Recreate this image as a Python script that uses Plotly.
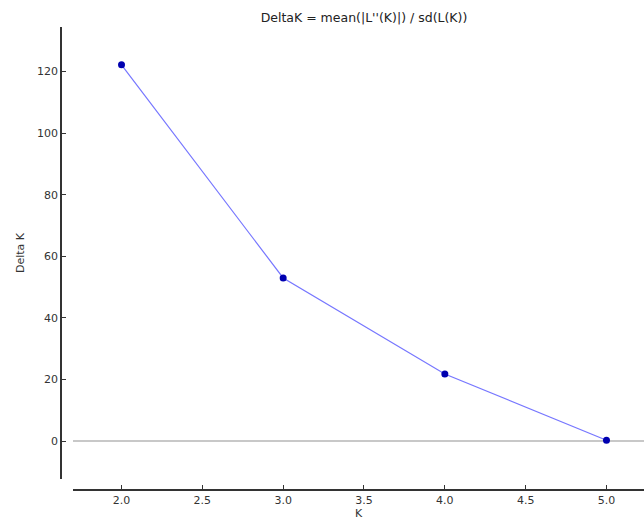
import plotly.graph_objects as go

k_values = [2, 3, 4, 5]
delta_k = [122.2, 53.0, 21.8, 0.3]
x_ticks = [2.0, 2.5, 3.0, 3.5, 4.0, 4.5, 5.0]
x_tick_labels = ["2.0", "2.5", "3.0", "3.5", "4.0", "4.5", "5.0"]
y_ticks = [0, 20, 40, 60, 80, 100, 120]

font_family = "DejaVu Sans"

fig = go.Figure()
fig.add_trace(go.Scatter(
    x=k_values, y=delta_k, mode="lines+markers",
    line=dict(color="rgba(60,60,255,0.7)", width=1.2),
    marker=dict(color="#0000b0", size=7, line=dict(width=0)),
    showlegend=False,
))

fig.update_layout(
    width=644, height=521,
    margin=dict(l=61, r=0, t=27, b=31),
    paper_bgcolor="white", plot_bgcolor="white",
    font=dict(family=font_family, size=11, color="#333"),
    title=dict(text="DeltaK = mean(|L''(K)|) / sd(L(K))", x=0.5652, xanchor="center",
               y=0.967, yanchor="middle", font=dict(size=12.5, color="#222")),
    xaxis=dict(
        domain=[0.0206, 1], anchor="free", position=0,
        range=[1.7, 5.232], tickvals=x_ticks, ticktext=x_tick_labels,
        showline=True, linecolor="#333", linewidth=1.5,
        ticks="inside", ticklen=4, tickcolor="#333",
        showgrid=False, zeroline=False,
        title=dict(text="K", standoff=0, font=dict(size=11)),
        automargin=False,
    ),
    yaxis=dict(
        domain=[0.0238, 1], anchor="free", position=0,
        range=[-12.3, 134.5], tickvals=y_ticks,
        showline=True, linecolor="#333", linewidth=1.5,
        ticks="inside", ticklen=4, tickcolor="#333",
        showgrid=False, zeroline=True, zerolinecolor="#c8c8c8", zerolinewidth=1.5,
        title=dict(text="Delta K", standoff=9, font=dict(size=11)),
        automargin=False,
    ),
)

fig.write_html(
    "out.html",
    config={"displayModeBar": False},
    post_script="document.body.style.margin='0';document.documentElement.style.overflow='hidden';",
)
